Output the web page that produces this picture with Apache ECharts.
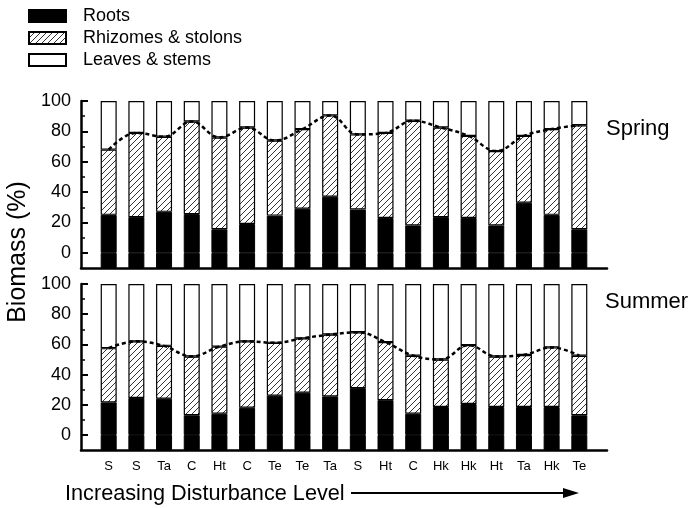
<!DOCTYPE html>
<html><head><meta charset="utf-8">
<script src="https://cdn.jsdelivr.net/npm/echarts@6/dist/echarts.min.js"></script>
<style>html,body{margin:0;padding:0;background:#fff}#c{width:698px;height:508px}</style>
</head><body><div id="c"></div>
<script>
const categories = ['S','S','Ta','C','Ht','C','Te','Te','Ta','S','Ht','C','Hk','Hk','Ht','Ta','Hk','Te'];
const majorTicks = [0,20,40,60,80,100];
const minorTicks = [10,30,50,70,90];
const springRoots = [25,23.5,27,25.5,15.5,19,24.5,29,37,28.5,23,18,23.5,23,18,33,25,15.5];
const springRhizomes = [43,55.5,49.5,61,60.5,63.5,49.5,52.5,53.5,49.5,56,69,59,54,49,44,56.5,68.5];
const springLeaves = [32,21,23.5,13.5,24,17.5,26,18.5,9.5,22,21,13,17.5,23,33,23,18.5,16];
const summerRoots = [21.5,24.5,24,13,14,18,26,28,25.5,31,23,14,18.5,20.5,18.5,18.5,18.5,13];
const summerRhizomes = [36,37.5,35,39,44.5,44,35,36,41,37,38.5,38.5,31.5,39,33.5,34.5,39.5,39.5];
const summerLeaves = [42.5,38,41,48,41.5,38,39,36,33.5,32,38.5,47.5,50,40.5,48,47,42,47.5];
const panelBase = -10;

// axis slots: one empty slot on each side of the 18 bars
const slots = [''].concat(categories, ['']);
const pad = arr => ['-'].concat(arr, ['-']);

function hatch(){
  const c = document.createElement('canvas'); c.width = 6; c.height = 6;
  const g = c.getContext('2d');
  g.fillStyle = '#fff'; g.fillRect(0,0,6,6);
  g.strokeStyle = '#000'; g.lineWidth = 0.8;
  g.beginPath();
  g.moveTo(0,6); g.lineTo(6,0);
  g.moveTo(-1,1); g.lineTo(1,-1);
  g.moveTo(5,7); g.lineTo(7,5);
  g.stroke();
  return {image: c, repeat: 'repeat'};
}
const hatchFill = hatch();
const FONT = 'Liberation Sans, Arial, sans-serif';

const grids = [
  {left: 81, right: 91, top: 101, height: 167},
  {left: 81, right: 91, top: 284, height: 166}
];
const xAxes = [0,1].map(p => ({
  type: 'category', gridIndex: p, data: slots, boundaryGap: false,
  axisLine: {show: true, onZero: false, lineStyle: {color: '#000', width: 2.5}},
  axisTick: {show: false}, splitLine: {show: false},
  axisLabel: p === 1 ? {show: true, interval: 0, color: '#000', fontSize: 13, fontFamily: FONT, margin: 10}
                     : {show: false}
}));
const yAxes = [];
[0,1].forEach(p => {
  yAxes.push({
    type: 'value', gridIndex: p, min: panelBase, max: 100,
    axisLine: {show: true, onZero: false, lineStyle: {color: '#000', width: 2.5}},
    axisTick: {show: true, inside: true, length: 7, customValues: majorTicks, lineStyle: {color: '#000', width: 2}},
    axisLabel: {customValues: majorTicks, color: '#000', fontSize: 18, fontFamily: FONT, margin: 10},
    splitLine: {show: false}
  });
  yAxes.push({
    type: 'value', gridIndex: p, min: panelBase, max: 100, position: 'left',
    axisLine: {show: false, onZero: false},
    axisTick: {show: true, inside: true, length: 4, customValues: minorTicks, lineStyle: {color: '#000', width: 1.5}},
    axisLabel: {show: false}, splitLine: {show: false}
  });
});

const panels = [
  {roots: springRoots, rhiz: springRhizomes, leaves: springLeaves},
  {roots: summerRoots, rhiz: summerRhizomes, leaves: summerLeaves}
];
const series = [];
panels.forEach((d,p) => {
  const common = {type: 'bar', stack: 'p'+p, xAxisIndex: p, yAxisIndex: p*2, barWidth: 16, animation: false};
  series.push(Object.assign({}, common, {name: 'base', data: pad(categories.map(() => panelBase)),
    itemStyle: {color: '#000', borderColor: '#000', borderWidth: 1}}));
  series.push(Object.assign({}, common, {name: 'Roots', data: pad(d.roots),
    itemStyle: {color: '#000', borderColor: '#000', borderWidth: 1}}));
  series.push(Object.assign({}, common, {name: 'Rhizomes & stolons', data: pad(d.rhiz),
    itemStyle: {color: hatchFill, borderColor: '#000', borderWidth: 1.2}}));
  series.push(Object.assign({}, common, {name: 'Leaves & stems', data: pad(d.leaves),
    itemStyle: {color: '#fff', borderColor: '#000', borderWidth: 1.2}}));
  series.push({type: 'line', xAxisIndex: p, yAxisIndex: p*2, z: 5, animation: false,
    data: pad(d.roots.map((v,i) => v + d.rhiz[i])), smooth: 0.4, symbol: 'none',
    lineStyle: {color: '#000', width: 2.5, type: [4,3]}});
});

const chart = echarts.init(document.getElementById('c'), null, {renderer: 'canvas'});
chart.setOption({
  backgroundColor: '#fff',
  animation: false,
  textStyle: {fontFamily: FONT},
  legend: {
    data: ['Roots','Rhizomes & stolons','Leaves & stems'],
    orient: 'vertical', left: 28, top: 7, padding: 0,
    itemWidth: 37, itemHeight: 12, itemGap: 4, icon: 'rect',
    textStyle: {fontSize: 18, color: '#000', fontFamily: FONT, padding: [0,0,0,12]},
    selectedMode: false
  },
  title: [
    {text: 'Spring', left: 606, top: 118, padding: 0, textStyle: {fontSize: 22, fontWeight: 'normal', color: '#000', fontFamily: FONT}},
    {text: 'Summer', left: 605, top: 291, padding: 0, textStyle: {fontSize: 22, fontWeight: 'normal', color: '#000', fontFamily: FONT}}
  ],
  grid: grids,
  xAxis: xAxes,
  yAxis: yAxes,
  series: series,
  graphic: [
    {type: 'text', x: 18, y: 252, rotation: Math.PI/2,
      style: {text: 'Biomass (%)', fontSize: 25, fontFamily: FONT, fill: '#000', align: 'center', verticalAlign: 'middle'}},
    {type: 'text', x: 65, y: 494,
      style: {text: 'Increasing Disturbance Level', fontSize: 21.7, fontFamily: FONT, fill: '#000', align: 'left', verticalAlign: 'middle'}},
    {type: 'line', shape: {x1: 351, y1: 493, x2: 566, y2: 493}, style: {stroke: '#000', lineWidth: 2}},
    {type: 'polygon', shape: {points: [[563,488],[579,493],[563,498]]}, style: {fill: '#000'}}
  ]
});
</script></body></html>
